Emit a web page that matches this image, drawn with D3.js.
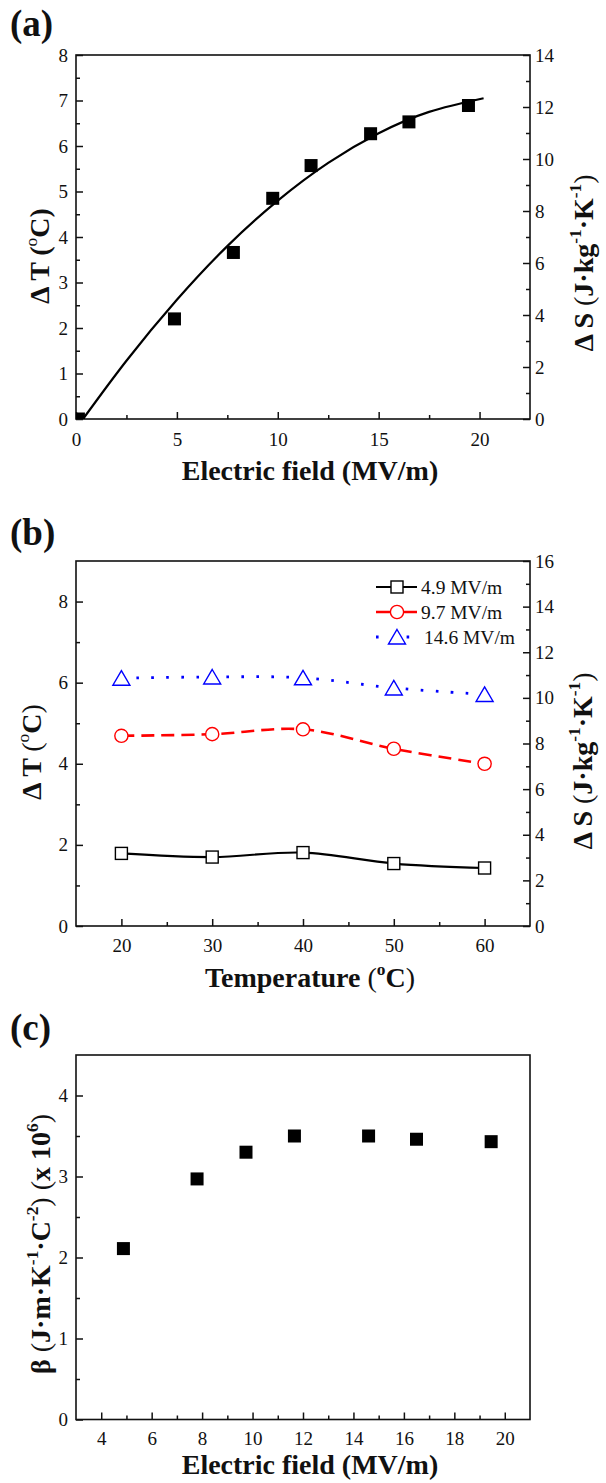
<!DOCTYPE html>
<html><head><meta charset="utf-8">
<script src="https://cdn.jsdelivr.net/npm/d3@7"></script>
<style>
body{margin:0;background:#fff}
svg{display:block}
text{font-family:"Liberation Serif","Times New Roman",serif;fill:#111}
</style>
</head><body>
<svg id="chart" width="606" height="1483"></svg>
<script>
// ---------- data ----------
// (a) electrocaloric temperature change vs electric field
const aField   = [0.12, 4.88, 7.8, 9.75, 11.65, 14.6, 16.5, 19.45];
const aDeltaT  = [0, 2.2, 3.66, 4.85, 5.57, 6.27, 6.53, 6.89];
// (a) fitted curve
const aFitField  = [0.35, 2.5, 5, 7.5, 10, 12.5, 15, 17.5, 20.2];
const aFitDeltaT = [0, 1.28, 2.62, 3.8, 4.8, 5.63, 6.28, 6.75, 7.05];
const aXTicks  = [0, 5, 10, 15, 20];
const aYTicks  = [0, 1, 2, 3, 4, 5, 6, 7, 8];
const aY2Ticks = [0, 2, 4, 6, 8, 10, 12, 14];

// (b) temperature change vs temperature for three fields
const bTemps   = [20, 30, 40, 50, 60];
const bNames   = ["4.9 MV/m", "9.7 MV/m", "14.6 MV/m"];
const b49      = [1.79, 1.70, 1.81, 1.54, 1.43];
const b97      = [4.69, 4.73, 4.85, 4.37, 4.0];
const b146     = [6.11, 6.14, 6.12, 5.87, 5.71];
const bXTicks  = [20, 30, 40, 50, 60];
const bYTicks  = [0, 2, 4, 6, 8];
const bY2Ticks = [0, 2, 4, 6, 8, 10, 12, 14, 16];

// (c) electrocaloric strength beta vs field
const cField   = [4.88, 7.8, 9.74, 11.66, 14.6, 16.5, 19.46];
const cBeta    = [2.11, 2.97, 3.30, 3.50, 3.50, 3.46, 3.43];
const cXTicks  = [4, 6, 8, 10, 12, 14, 16, 18, 20];
const cYTicks  = [0, 1, 2, 3, 4];

// ---------- drawing ----------
const svg = d3.select("#chart");
const L = 76, R = 530;
const TICKFS = 19, TITLEFS = 28;

function richText(sel, parts, fs) {
  let up = 0;
  parts.forEach(p => {
    const ts = sel.append("tspan").text(p.t)
      .attr("font-weight", p.b ? "bold" : "normal");
    if (p.sup) {
      ts.attr("font-size", fs * 0.62).attr("dy", -fs * 0.42);
      up = fs * 0.42;
    } else {
      ts.attr("font-size", fs);
      if (up) { ts.attr("dy", up); up = 0; }
    }
  });
  return sel;
}

function styleAxis(g) {
  g.select(".domain").remove();
  g.selectAll(".tick line").attr("stroke", "#111").attr("stroke-width", 1.5);
  g.selectAll(".tick text").attr("font-size", TICKFS).attr("fill", "#222")
    .attr("font-family", '"Liberation Serif","Times New Roman",serif');
}

function makePanel(o) {
  const x = d3.scaleLinear().domain(o.xd).range([L, R]);
  const y = d3.scaleLinear().domain(o.yd).range([o.B, o.T]);
  const g = svg.append("g");
  const fmt = d => d3.format("~g")(d);

  // bottom axis
  g.append("g").attr("transform", `translate(0,${o.B})`)
    .call(d3.axisBottom(x).tickValues(o.xt).tickSize(-7).tickPadding(o.xpad).tickFormat(fmt)).call(styleAxis);
  g.append("g").attr("transform", `translate(0,${o.B})`)
    .call(d3.axisBottom(x).tickValues(o.xm).tickSize(-4).tickFormat("")).call(styleAxis);
  // left axis
  g.append("g").attr("transform", `translate(${L},0)`)
    .call(d3.axisLeft(y).tickValues(o.yt).tickSize(-7).tickPadding(8).tickFormat(fmt)).call(styleAxis);
  g.append("g").attr("transform", `translate(${L},0)`)
    .call(d3.axisLeft(y).tickValues(o.ym).tickSize(-4).tickFormat("")).call(styleAxis);
  let y2 = null;
  if (o.y2d) {
    y2 = d3.scaleLinear().domain(o.y2d).range([o.B, o.T]);
    g.append("g").attr("transform", `translate(${R},0)`)
      .call(d3.axisRight(y2).tickValues(o.y2t).tickSize(-7).tickPadding(5).tickFormat(fmt)).call(styleAxis);
    g.append("g").attr("transform", `translate(${R},0)`)
      .call(d3.axisRight(y2).tickValues(o.y2m).tickSize(-4).tickFormat("")).call(styleAxis);
  }
  // frame
  g.append("rect").attr("x", L).attr("y", o.T).attr("width", R - L).attr("height", o.B - o.T)
    .attr("fill", "none").attr("stroke", "#111").attr("stroke-width", 1.6);

  // clip
  const cid = "clip" + o.id;
  svg.append("clipPath").attr("id", cid).append("rect")
    .attr("x", L).attr("y", o.T).attr("width", R - L).attr("height", o.B - o.T);
  const plot = svg.append("g").attr("clip-path", `url(#${cid})`);

  // panel tag
  svg.append("text").attr("x", o.tagX).attr("y", o.tagY).attr("font-size", 37)
    .attr("font-weight", "bold").text(o.tag);
  // x title
  richText(svg.append("text").attr("x", 310).attr("y", o.xtY).attr("text-anchor", "middle"), o.xTitle, TITLEFS);
  // y title
  richText(svg.append("text").attr("transform", `translate(${o.ytX},${o.ytY}) rotate(-90)`)
    .attr("text-anchor", "middle"), o.yTitle, TITLEFS);
  if (o.y2Title) {
    richText(svg.append("text").attr("transform", `translate(${o.y2tX},${o.y2tY}) rotate(-90)`)
      .attr("text-anchor", "middle"), o.y2Title, TITLEFS);
  }
  return {x, y, y2, plot};
}

const ΔT = (bParen) => [{t: "Δ T ", b: 1}, {t: "(", b: bParen}, {t: "o", sup: 1}, {t: "C", b: 1}, {t: ")", b: bParen}];
const ΔS = [{t: "Δ S ", b: 1}, {t: "(", b: 0}, {t: "J·kg", b: 1}, {t: "-1", sup: 1, b: 1}, {t: "·K", b: 1}, {t: "-1", sup: 1, b: 1}, {t: ")", b: 0}];
const EF = [{t: "Electric field (MV/m)", b: 1}];

// ----- panel (a) -----
const A = makePanel({
  id: "a", T: 55, B: 419, xd: [0, 22.5], yd: [0, 8], y2d: [0, 14],
  xt: aXTicks, xm: [2.5, 7.5, 12.5, 17.5], xpad: 14,
  yt: aYTicks, ym: [0.5, 1.5, 2.5, 3.5, 4.5, 5.5, 6.5, 7.5],
  y2t: aY2Ticks, y2m: [1, 3, 5, 7, 9, 11, 13],
  tag: "(a)", tagX: 10, tagY: 36,
  xTitle: EF, xtY: 480,
  yTitle: ΔT(1), ytX: 49, ytY: 256,
  y2Title: ΔS, y2tX: 593, y2tY: 263
});
const fitData = aFitField.map((v, i) => [v, aFitDeltaT[i]]);
A.plot.append("path").datum(fitData)
  .attr("d", d3.line().x(d => A.x(d[0])).y(d => A.y(d[1])).curve(d3.curveNatural))
  .attr("fill", "none").attr("stroke", "#000").attr("stroke-width", 2.2);
A.plot.selectAll("rect.pt").data(aField.map((v, i) => [v, aDeltaT[i]])).enter()
  .append("rect").attr("class", "pt")
  .attr("x", d => A.x(d[0]) - 6.5).attr("y", d => A.y(d[1]) - 6.5)
  .attr("width", 13).attr("height", 13).attr("fill", "#000");

// ----- panel (b) -----
const B = makePanel({
  id: "b", T: 561, B: 926, xd: [15, 65], yd: [0, 9], y2d: [0, 16],
  xt: bXTicks, xm: [25, 35, 45, 55], xpad: 13,
  yt: bYTicks, ym: [1, 3, 5, 7],
  y2t: bY2Ticks, y2m: [1, 3, 5, 7, 9, 11, 13, 15],
  tag: "(b)", tagX: 10, tagY: 545,
  xTitle: [{t: "Temperature ", b: 1}, {t: "(", b: 0}, {t: "o", sup: 1, b: 1}, {t: "C", b: 1}, {t: ")", b: 0}], xtY: 987,
  yTitle: ΔT(0), ytX: 41, ytY: 752,
  y2Title: ΔS, y2tX: 592, y2tY: 761
});
const bSeries = [
  {name: bNames[0], vals: b49,  color: "#000",    dash: null,    width: 2.2, shape: "square"},
  {name: bNames[1], vals: b97,  color: "#ff0000", dash: "13,7",  width: 2.6, shape: "circle"},
  {name: bNames[2], vals: b146, color: "#0000ff", dash: "2.6,12.4", width: 2.8, shape: "triangle"}
];
function marker(sel, shape, color) {
  if (shape === "square") {
    sel.append("rect").attr("x", -6).attr("y", -6).attr("width", 12).attr("height", 12)
      .attr("fill", "#fff").attr("stroke", color).attr("stroke-width", 1.4);
  } else if (shape === "circle") {
    sel.append("circle").attr("r", 6.6).attr("fill", "#fff").attr("stroke", color).attr("stroke-width", 1.4);
  } else {
    sel.append("path").attr("d", "M0,-7.5L8.5,7L-8.5,7Z")
      .attr("fill", "#fff").attr("stroke", color).attr("stroke-width", 1.4);
  }
}
bSeries.forEach(s => {
  const pts = bTemps.map((t, i) => [t, s.vals[i]]);
  B.plot.append("path").datum(pts)
    .attr("d", d3.line().x(d => B.x(d[0])).y(d => B.y(d[1])).curve(d3.curveCatmullRom.alpha(0.5)))
    .attr("fill", "none").attr("stroke", s.color).attr("stroke-width", s.width)
    .attr("stroke-dasharray", s.dash);
  pts.forEach(d => {
    marker(B.plot.append("g").attr("transform", `translate(${B.x(d[0])},${B.y(d[1])})`), s.shape, s.color);
  });
});
// legend
const legY = [587, 612, 637];
bSeries.forEach((s, i) => {
  const lg = svg.append("g").attr("transform", `translate(0,${legY[i]})`);
  lg.append("line").attr("x1", 376).attr("x2", 417).attr("y1", 0).attr("y2", 0)
    .attr("stroke", s.color).attr("stroke-width", s.width)
    .attr("stroke-dasharray", s.shape === "triangle" ? "2.6,28" : null);
  marker(lg.append("g").attr("transform", "translate(397,0)"), s.shape, s.color);
  lg.append("text").attr("x", i === 2 ? 424 : 421).attr("y", 0).attr("dy", "0.34em")
    .attr("font-size", 19.5).text(s.name);
});

// ----- panel (c) -----
const C = makePanel({
  id: "c", T: 1055, B: 1419.5, xd: [3, 21], yd: [0, 4.5],
  xt: cXTicks, xm: [5, 7, 9, 11, 13, 15, 17, 19], xpad: 12.5,
  yt: cYTicks, ym: [0.5, 1.5, 2.5, 3.5],
  tag: "(c)", tagX: 10, tagY: 1040,
  xTitle: EF, xtY: 1474,
  yTitle: [{t: "β ", b: 1}, {t: "(", b: 0}, {t: "J·m·K", b: 1}, {t: "-1", sup: 1, b: 1}, {t: "·C", b: 1}, {t: "-2", sup: 1, b: 1},
           {t: ")", b: 0}, {t: " ", b: 0}, {t: "(", b: 0}, {t: "x 10", b: 1}, {t: "6", sup: 1, b: 1}, {t: ")", b: 0}],
  ytX: 50, ytY: 1244
});
C.plot.selectAll("rect.pt").data(cField.map((v, i) => [v, cBeta[i]])).enter()
  .append("rect").attr("class", "pt")
  .attr("x", d => C.x(d[0]) - 6.5).attr("y", d => C.y(d[1]) - 6.5)
  .attr("width", 13).attr("height", 13).attr("fill", "#000");
</script>
</body></html>
